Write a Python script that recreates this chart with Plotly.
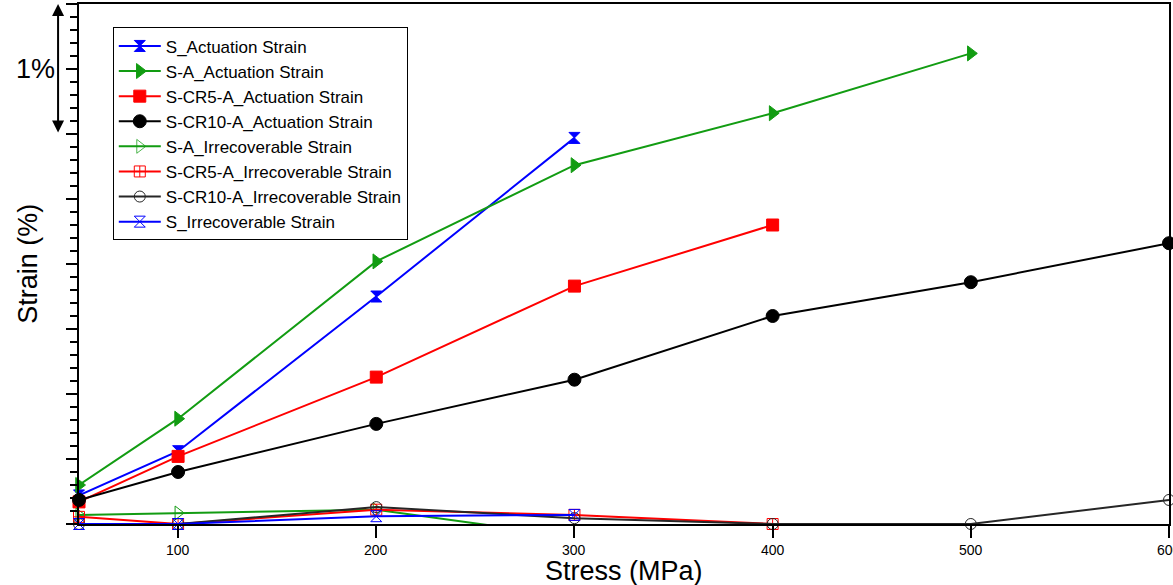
import plotly.graph_objects as go

# Stress levels (MPa)
stress_S = [50, 100, 200, 300]
stress_SA = [50, 100, 200, 300, 400, 500]
stress_CR5 = [50, 100, 200, 300, 400]
stress_CR10 = [50, 100, 200, 300, 400, 500, 600]
stress_SA_irr = [50, 100, 200, 300]

# Actuation strain (%)
S_act = [0.22, 0.56, 1.75, 2.97]
SA_act = [0.30, 0.81, 2.02, 2.76, 3.16, 3.62]
CR5_act = [0.17, 0.52, 1.13, 1.83, 2.30]
CR10_act = [0.185, 0.40, 0.77, 1.11, 1.60, 1.86, 2.16]

# Irrecoverable strain (%)
SA_irr = [0.07, 0.085, 0.11, -0.10]
CR5_irr = [0.055, 0.0, 0.11, 0.07, 0.0]
CR10_irr = [0.0, 0.0, 0.13, 0.045, 0.0, 0.0, 0.185]
S_irr = [0.0, 0.0, 0.06, 0.07]

x_ticks = [100, 200, 300, 400, 500, 600]
x_tick_text = ["100", "200", "300", "400", "500", "600"]

BLUE = "#0000ff"
GREEN = "#129c12"
RED = "#ff0000"
BLACK = "#000000"
GRAY = "#262626"
FONT = "Liberation Sans, Arial, sans-serif"

fig = go.Figure()

def add(x, y, name, color, symbol, size, lw, mlw=1, opacity=None, clip=False):
    marker = dict(symbol=symbol, size=size, color=color, line=dict(color=color, width=mlw))
    if opacity is not None:
        marker["opacity"] = opacity
    fig.add_trace(go.Scatter(x=x, y=y, name=name, mode="lines+markers",
                             line=dict(color=color, width=lw), marker=marker,
                             cliponaxis=clip))

add(stress_S, S_act, "S_Actuation Strain", BLUE, "hourglass", 11, 2)
add(stress_SA, SA_act, "S-A_Actuation Strain", GREEN, "triangle-right", 13, 2)
add(stress_CR5, CR5_act, "S-CR5-A_Actuation Strain", RED, "square", 12, 2)
add(stress_CR10, CR10_act, "S-CR10-A_Actuation Strain", BLACK, "circle", 13, 2)
add(stress_SA_irr, SA_irr, "S-A_Irrecoverable Strain", GREEN, "triangle-right-open", 12, 2,
    opacity=[1 if v >= 0 else 0 for v in SA_irr])
add(stress_CR5, CR5_irr, "S-CR5-A_Irrecoverable Strain", RED, "square-cross-open", 11, 2)
add(stress_CR10, CR10_irr, "S-CR10-A_Irrecoverable Strain", GRAY, "circle-open", 11, 2)
add(stress_S, S_irr, "S_Irrecoverable Strain", BLUE, "hourglass-open", 11, 2)

# tick labels drawn as annotations so the last one is cut by the page edge like the original
tick_annots = [
    dict(text=t, xref="x", yref="paper", x=v, y=-0.050, xanchor="center",
         yanchor="middle", showarrow=False, font=dict(size=14, family=FONT))
    for v, t in zip(x_ticks, x_tick_text)
]

fig.update_layout(
    width=1173, height=585,
    margin=dict(l=79, r=2, t=3, b=61),
    paper_bgcolor="white", plot_bgcolor="white",
    font=dict(family=FONT, color="black"),
    showlegend=True,
    legend=dict(x=0.031, y=0.955, xanchor="left", yanchor="top",
                bordercolor="black", borderwidth=1, bgcolor="white",
                font=dict(size=17, family=FONT), tracegroupgap=0,
                itemwidth=42),
    xaxis=dict(range=[50, 600], tickvals=x_ticks, ticks="outside", ticklen=12,
               tickwidth=2, tickcolor="black", showline=True, linecolor="black",
               linewidth=2, mirror=True, showgrid=False, zeroline=False,
               showticklabels=False),
    yaxis=dict(range=[0, 4.0], dtick=0.5, tick0=0, ticks="outside", ticklen=11,
               tickwidth=2, tickcolor="black", showticklabels=False,
               minor=dict(dtick=0.1, ticks="outside", ticklen=7, tickwidth=2,
                          tickcolor="black", showgrid=False),
               showline=True, linecolor="black", linewidth=2, mirror=True,
               showgrid=False, zeroline=False),
    annotations=tick_annots + [
        dict(text="Stress (MPa)", xref="paper", yref="paper", x=0.5, y=-0.090,
             xanchor="center", yanchor="middle", showarrow=False,
             font=dict(size=27, family=FONT)),
        dict(text="Strain (%)", xref="paper", yref="paper", x=-0.047, y=0.5,
             xanchor="center", yanchor="middle", textangle=-90, showarrow=False,
             font=dict(size=27, family=FONT)),
        dict(text="1%", xref="paper", yref="y", x=-0.040, y=3.5,
             xanchor="center", yanchor="middle", showarrow=False,
             font=dict(size=27, family=FONT)),
        dict(text="", xref="paper", yref="y", x=-0.0192, y=4.0,
             axref="pixel", ax=0, ayref="y", ay=3.0,
             showarrow=True, arrowhead=2, arrowside="end+start",
             arrowsize=1.2, arrowwidth=2, arrowcolor="black",
             standoff=0, startstandoff=0),
    ],
)

fig.write_html("out.html")
